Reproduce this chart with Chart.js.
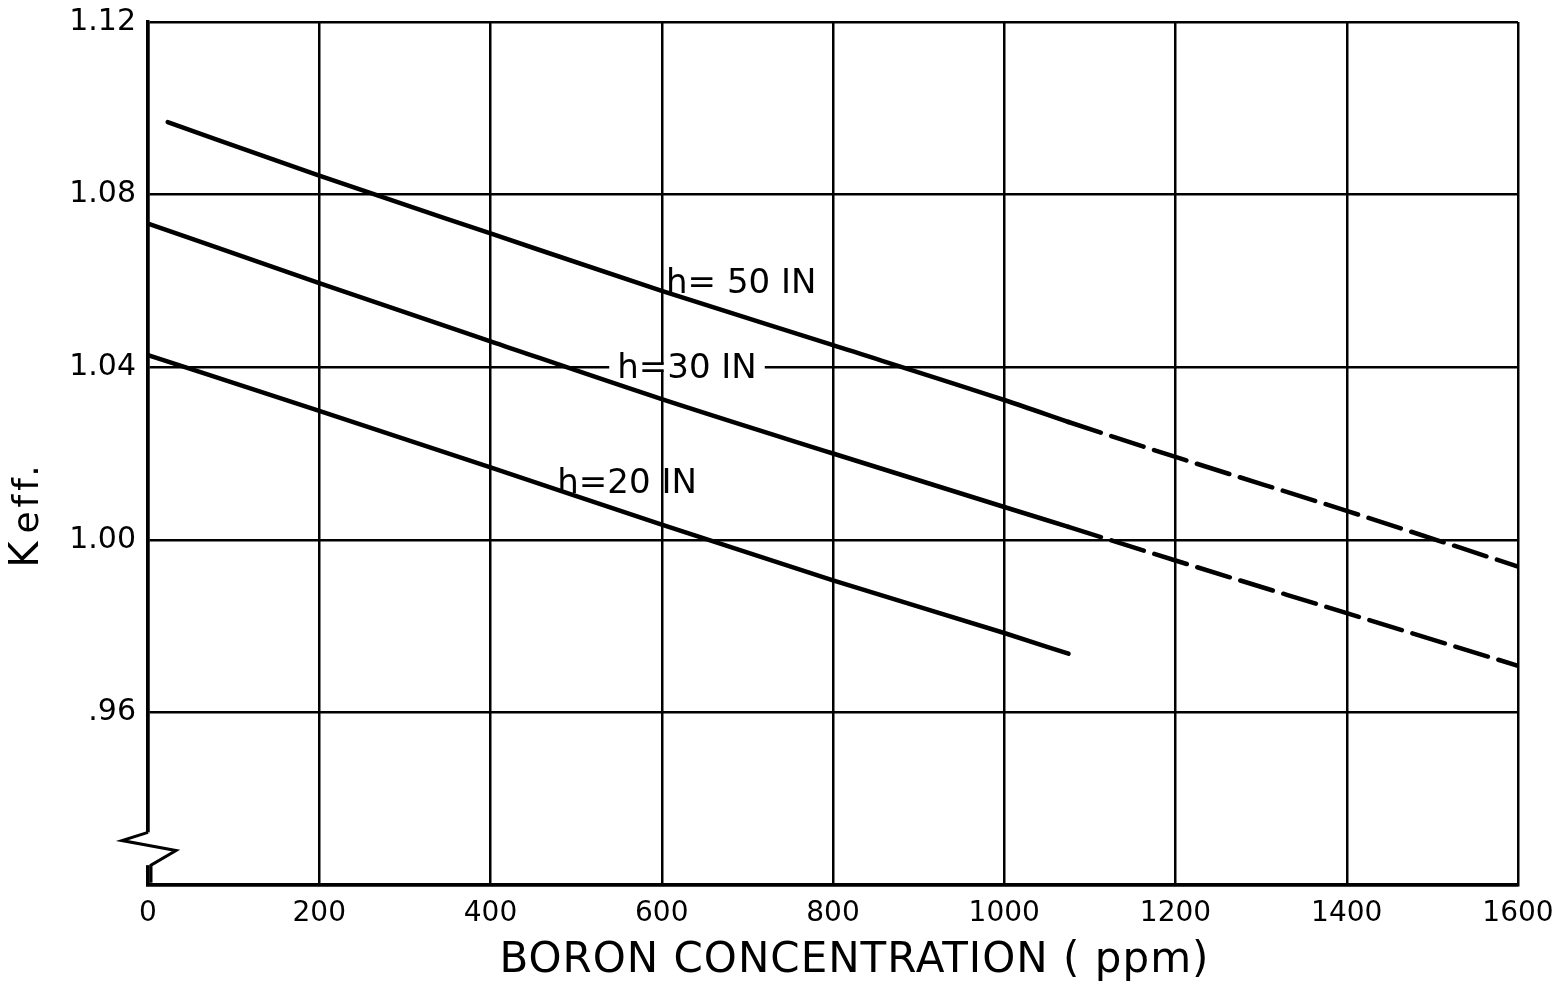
<!DOCTYPE html>
<html>
<head>
<meta charset="utf-8">
<script src="https://cdn.jsdelivr.net/npm/chart.js@4.4.1/dist/chart.umd.min.js"></script>
<style>
  html, body { margin: 0; padding: 0; background: #fff; }
  #wrap { width: 1554px; height: 981px; }
</style>
</head>
<body>
<div id="wrap"><canvas id="keff"></canvas></div>
<script>
// boron concentration (ppm) sample points
const boron50 = [23, 200, 400, 600, 800, 1000, 1075];
const keff50 = [1.0968, 1.0844, 1.0710, 1.0577, 1.0451, 1.0324, 1.0273];
const boron50Dash = [1075, 1200, 1400, 1600];
const keff50Dash = [1.0273, 1.0192, 1.0067, 0.9938];

const boron30 = [0, 200, 400, 600, 800, 1000, 1075];
const keff30 = [1.0733, 1.0595, 1.0460, 1.0326, 1.0200, 1.0076, 1.0030];
const boron30Dash = [1075, 1200, 1400, 1600];
const keff30Dash = [1.0030, 0.9952, 0.9830, 0.9708];

const boron20 = [0, 200, 400, 600, 800, 1000, 1075];
const keff20 = [1.0428, 1.0299, 1.0168, 1.0035, 0.9906, 0.9784, 0.9736];

const xTicks = [0, 200, 400, 600, 800, 1000, 1200, 1400, 1600];
const yTicks = [0.92, 0.96, 1.00, 1.04, 1.08, 1.12];

// curve labels: [text, ppm, keff]
const curveLabels = [
    ['h= 50 IN', 605, 1.0592],
    ['h=30 IN', 548, 1.0395],
    ['h=20 IN', 478, 1.0130]
];

const xTitle = 'BORON CONCENTRATION ( ppm)';

const FONT = '"DejaVu Sans", sans-serif';

function toPoints(xs, ys) {
    return xs.map((x, i) => ({ x: x, y: ys[i] }));
}

function curve(xs, ys, dashed) {
    return {
        data: toPoints(xs, ys),
        borderColor: '#000',
        borderWidth: 4.5,
        borderDash: dashed ? [34, 11] : [],
        borderCapStyle: 'round',
        pointRadius: 0,
        cubicInterpolationMode: 'monotone',
        fill: false
    };
}

const decorations = {
    id: 'decorations',
    afterDraw(chart) {
        const ctx = chart.ctx;
        const x = chart.scales.x;
        const y = chart.scales.y;
        const left = chart.chartArea.left;

        // axis break zigzag near the bottom of the y axis
        const top = y.getPixelForValue(0.9322);
        const bot = y.getPixelForValue(0.9246);
        ctx.save();
        ctx.fillStyle = '#fff';
        ctx.fillRect(left - 4, top, 8, bot - top);
        ctx.strokeStyle = '#000';
        ctx.lineWidth = 3;
        ctx.lineJoin = 'miter';
        ctx.beginPath();
        ctx.moveTo(left, top);
        ctx.lineTo(left - 26, y.getPixelForValue(0.9303));
        ctx.lineTo(left + 28, y.getPixelForValue(0.9280));
        ctx.lineTo(left + 3, y.getPixelForValue(0.9246));
        ctx.lineTo(left + 3, y.getPixelForValue(0.9205));
        ctx.stroke();

        // curve labels
        ctx.font = '34px ' + FONT;
        ctx.textBaseline = 'middle';
        ctx.textAlign = 'left';
        curveLabels.forEach(([text, px, py]) => {
            const lx = x.getPixelForValue(px);
            const ly = y.getPixelForValue(py);
            const w = ctx.measureText(text).width;
            if (text.startsWith('h=30')) {
                ctx.fillStyle = '#fff';
                ctx.fillRect(lx - 8, y.getPixelForValue(1.04) - 3, w + 16, 6);
            }
            ctx.fillStyle = '#000';
            ctx.fillText(text, lx, ly);
        });

        // x axis title
        ctx.font = '42px ' + FONT;
        ctx.letterSpacing = '1px';
        ctx.textAlign = 'center';
        ctx.fillText(xTitle, x.getPixelForValue(825), chart.height - 20);

        // y axis title: K with "eff."
        ctx.translate(28, y.getPixelForValue(0.9935));
        ctx.rotate(-Math.PI / 2);
        ctx.textAlign = 'left';
        ctx.letterSpacing = '4px';
        ctx.font = '40px ' + FONT;
        ctx.fillText('K', 0, 0);
        const kw = ctx.measureText('K').width;
        ctx.font = '36px ' + FONT;
        ctx.fillText('eff.', kw + 4, 1);
        ctx.restore();
    }
};

new Chart(document.getElementById('keff'), {
    type: 'line',
    data: {
        datasets: [
            curve(boron50, keff50, false),
            curve(boron50Dash, keff50Dash, true),
            curve(boron30, keff30, false),
            curve(boron30Dash, keff30Dash, true),
            curve(boron20, keff20, false)
        ]
    },
    options: {
        responsive: true,
        maintainAspectRatio: false,
        animation: false,
        layout: { padding: { left: 0, right: 36, top: 22, bottom: 0 } },
        plugins: {
            legend: { display: false },
            tooltip: { enabled: false }
        },
        scales: {
            x: {
                type: 'linear',
                min: 0,
                max: 1600,
                afterBuildTicks: (s) => { s.ticks = xTicks.map(v => ({ value: v })); },
                afterFit: (s) => { s.height = 96; s.paddingLeft = 0; s.paddingRight = 0; },
                grid: { color: '#000', lineWidth: 2.5, drawTicks: false },
                border: { color: '#000', width: 3.5 },
                ticks: {
                    color: '#000',
                    padding: 12,
                    maxRotation: 0,
                    font: { family: FONT, size: 28 },
                    callback: (v) => String(v)
                }
            },
            y: {
                min: 0.92,
                max: 1.12,
                afterBuildTicks: (s) => { s.ticks = yTicks.map(v => ({ value: v })); },
                afterFit: (s) => { s.width = 148; s.paddingTop = 0; s.paddingBottom = 0; },
                grid: { color: '#000', lineWidth: 2.5, drawTicks: false },
                border: { color: '#000', width: 3.5 },
                ticks: {
                    color: '#000',
                    padding: 12,
                    font: { family: FONT, size: 30 },
                    callback: (v) => {
                        if (Math.abs(v - 0.92) < 1e-6) return '';
                        if (Math.abs(v - 0.96) < 1e-6) return '.96';
                        return v.toFixed(2);
                    }
                }
            }
        }
    },
    plugins: [decorations]
});
</script>
</body>
</html>
